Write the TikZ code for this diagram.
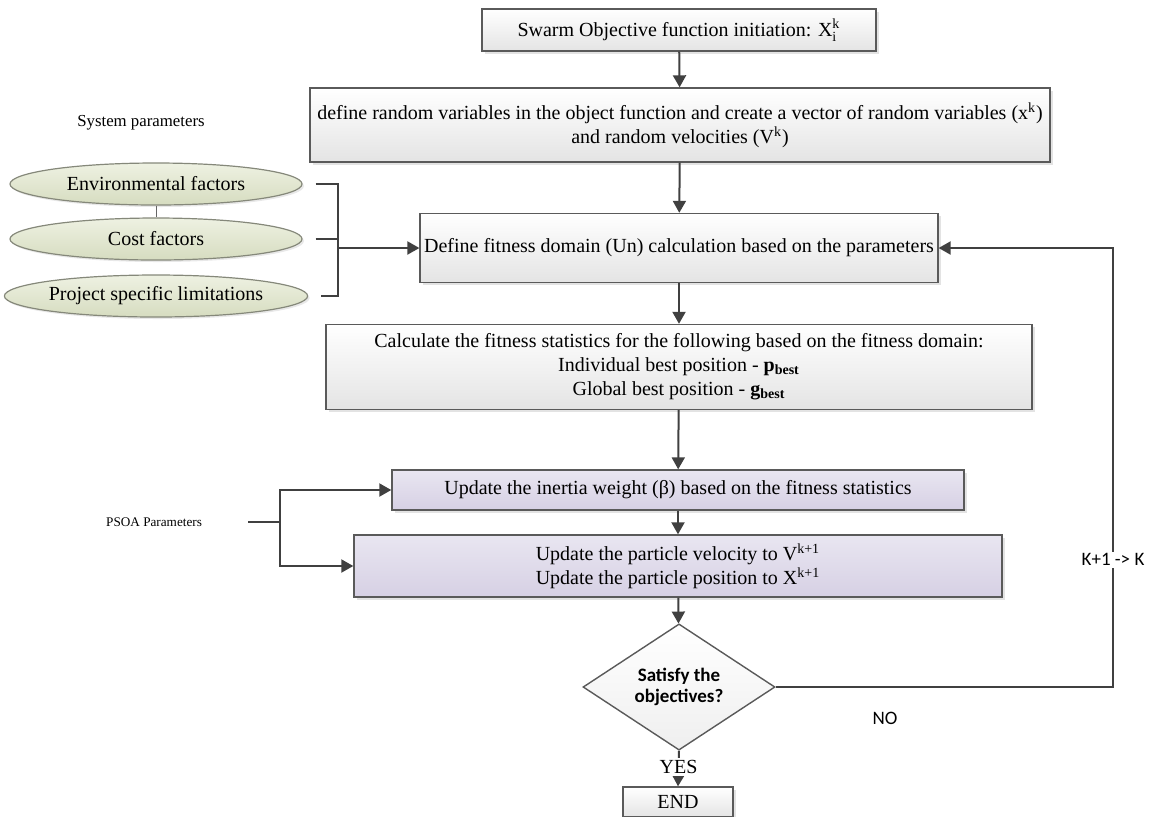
\documentclass[tikz,border=0pt]{standalone}
\usepackage{amsmath}
\usepackage{fontspec}
\setmainfont{Liberation Serif}
\newfontfamily\calibri{Carlito}
\usetikzlibrary{shapes.geometric,arrows.meta,shadows}
\definecolor{boxgray}{HTML}{5A5A5A}
\definecolor{linegray}{HTML}{404040}
\definecolor{boxbot}{HTML}{E4E4E4}
\definecolor{psotop}{HTML}{E9E6F1}
\definecolor{psobot}{HTML}{D6D0E4}
\definecolor{facttop}{HTML}{EEF1E2}
\definecolor{factbot}{HTML}{D6DCC0}
\definecolor{factline}{HTML}{85887A}

\begin{document}
\begin{tikzpicture}[x=0.5pt, y=-0.5pt,
    box/.style={draw=boxgray, line width=0.7pt, top color=white, bottom color=boxbot,
        drop shadow={shadow xshift=1.4pt, shadow yshift=-1.4pt, opacity=0.22},
        align=center, inner sep=2pt, font=\fontsize{10}{12}\selectfont},
    psobox/.style={box, top color=psotop, bottom color=psobot},
    factor/.style={ellipse, draw=factline, line width=0.6pt, top color=facttop, bottom color=factbot,
        drop shadow={shadow xshift=1pt, shadow yshift=-1pt, opacity=0.18},
        minimum width=146pt, minimum height=21pt, inner sep=0pt, font=\fontsize{10}{12}\selectfont},
    decision/.style={diamond, draw=boxgray, line width=0.7pt, top color=white, bottom color=boxbot!60,
        minimum width=96pt, minimum height=45.5pt, inner sep=0pt, align=center,
        font=\calibri\bfseries\fontsize{9.5}{10.5}\selectfont},
    lbl/.style={font=\calibri\fontsize{9.5}{11}\selectfont, inner sep=1pt},
    flow/.style={draw=linegray, line width=1pt, -{Triangle[length=6pt,width=6.5pt]}},
    link/.style={draw=linegray, line width=1pt}]

    \useasboundingbox (0,0) rectangle (1150,816);

    % Main chain
    \node[box, minimum width=197pt, minimum height=21pt] (init) at (679,30) {Swarm Objective function initiation: $\text{X}_\text{i}^\text{k}$};
    \node[box, minimum width=370pt, minimum height=37pt] (randvar) at (680,125) {define random variables in the object function and create a vector of random variables (x\textsuperscript{k})\\ and random velocities (V\textsuperscript{k})};
    \node[box, minimum width=255pt, minimum height=34.5pt] (fitdom) at (679,248) {Define fitness domain (Un) calculation based on the parameters};
    \node[box, minimum width=353pt, minimum height=42.5pt] (fitstat) at (679,367) {Calculate the fitness statistics for the following based on the fitness domain:\\ Individual best position - \textbf{p\textsubscript{best}}\\ Global best position - \textbf{g\textsubscript{best}}};
    \node[psobox, minimum width=286pt, minimum height=20pt] (inertia) at (678,490) {Update the inertia weight (β) based on the fitness statistics};
    \node[psobox, minimum width=324pt, minimum height=31pt] (update) at (678,566) {Update the particle velocity to V\textsuperscript{k+1}\\ Update the particle position to X\textsuperscript{k+1}};
    \node[decision] (check) at (679,687) {Satisfy the\\ objectives?};
    \node[box, minimum width=55pt, minimum height=15pt] (finish) at (678,802) {END};

    \draw[flow] (init) -- (randvar);
    \draw[flow] (randvar) -- (fitdom);
    \draw[flow] (fitdom) -- (fitstat);
    \draw[flow] (fitstat) -- (inertia);
    \draw[flow] (inertia) -- (update);
    \draw[flow] (update) -- (check);
    \draw[flow] (check.south) -- node[pos=0.45, fill=white, font=\fontsize{10}{12}\selectfont, inner sep=1pt] (yeslbl) {YES} (finish.north);

    % Loop back
    \coordinate (loopcorner) at (1113,687);
    \draw[flow] (check.east) -- (loopcorner) -- node[pos=0.29, fill=white, lbl] (iterlbl) {K+1 -> K} (loopcorner |- fitdom.east) -- (fitdom.east);
    \node[lbl] (nolbl) at (885,718) {NO};

    % System parameters
    \node[font=\fontsize{8.4}{10}\selectfont] (syspar) at (141,123) {System parameters};
    \node[factor] (env) at (156,184) {Environmental factors};
    \node[factor] (cost) at (156,239) {Cost factors};
    \node[factor] (proj) at (156,296) {Project specific limitations};
    \draw[draw=linegray!80, line width=0.5pt] (env.south) -- (cost.north);
    \coordinate (sysjoin) at (338,248);
    \draw[link] ([xshift=6.5pt]env.east) -| (sysjoin |- proj.east) -- ([xshift=6.5pt]proj.east);
    \draw[link] ([xshift=6.5pt]cost.east) -- (cost.east -| sysjoin);
    \draw[flow] (sysjoin) -- (fitdom.west);

    % PSOA parameters
    \node[font=\fontsize{6.6}{8}\selectfont, anchor=east] (psoapar) at (209,522) {PSOA Parameters};
    \coordinate (psoastub) at (248,522);
    \coordinate (psoajoin) at (280,522);
    \draw[link] (psoastub) -- (psoajoin);
    \draw[flow] (psoajoin) |- (inertia.west);
    \draw[flow] (psoajoin) |- (update.west);
\end{tikzpicture}
\end{document}
